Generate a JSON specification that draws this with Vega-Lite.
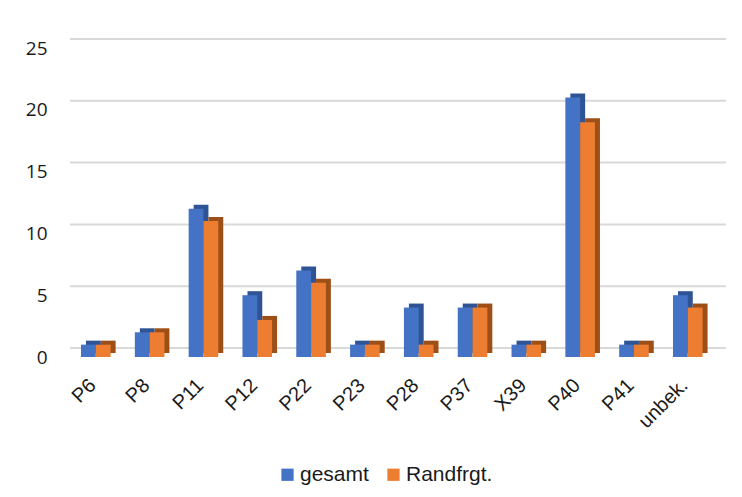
{
  "$schema": "https://vega.github.io/schema/vega-lite/v6.json",
  "width": 656,
  "height": 309,
  "autosize": "none",
  "padding": {"left": 70, "top": 48, "right": 16, "bottom": 140},
  "background": "white",
  "config": {"view": {"stroke": null}},
  "datasets": {
    "bars": [
      {"cat": "P6", "series": "gesamt", "value": 1},
      {"cat": "P6", "series": "Randfrgt.", "value": 1},
      {"cat": "P8", "series": "gesamt", "value": 2},
      {"cat": "P8", "series": "Randfrgt.", "value": 2},
      {"cat": "P11", "series": "gesamt", "value": 12},
      {"cat": "P11", "series": "Randfrgt.", "value": 11},
      {"cat": "P12", "series": "gesamt", "value": 5},
      {"cat": "P12", "series": "Randfrgt.", "value": 3},
      {"cat": "P22", "series": "gesamt", "value": 7},
      {"cat": "P22", "series": "Randfrgt.", "value": 6},
      {"cat": "P23", "series": "gesamt", "value": 1},
      {"cat": "P23", "series": "Randfrgt.", "value": 1},
      {"cat": "P28", "series": "gesamt", "value": 4},
      {"cat": "P28", "series": "Randfrgt.", "value": 1},
      {"cat": "P37", "series": "gesamt", "value": 4},
      {"cat": "P37", "series": "Randfrgt.", "value": 4},
      {"cat": "X39", "series": "gesamt", "value": 1},
      {"cat": "X39", "series": "Randfrgt.", "value": 1},
      {"cat": "P40", "series": "gesamt", "value": 21},
      {"cat": "P40", "series": "Randfrgt.", "value": 19},
      {"cat": "P41", "series": "gesamt", "value": 1},
      {"cat": "P41", "series": "Randfrgt.", "value": 1},
      {"cat": "unbek.", "series": "gesamt", "value": 5},
      {"cat": "unbek.", "series": "Randfrgt.", "value": 4}
    ],
    "grid": [{"g": 0}, {"g": 5}, {"g": 10}, {"g": 15}, {"g": 20}, {"g": 25}]
  },
  "layer": [
    {
      "data": {"name": "grid"},
      "mark": {"type": "rule", "color": "#d9d9d9", "strokeWidth": 2, "yOffset": -9},
      "encoding": {
        "y": {"field": "g", "type": "quantitative", "scale": {"domain": [0, 25]},
              "axis": {"title": null, "domain": false, "ticks": false, "grid": false, "values": [0, 5, 10, 15, 20, 25],
                       "labelPadding": 23, "labelFont": "Open Sans", "labelFontSize": 19, "labelColor": "#1a1a1a"}}
      }
    },
    {
      "data": {"name": "bars"},
      "transform": [{"filter": "datum.series == 'gesamt'"}],
      "mark": {"type": "bar", "width": {"band": 0.5}, "xOffset": -2.4, "yOffset": -4, "color": "#2F5496"},
      "encoding": {
        "x": {"field": "cat", "type": "nominal", "sort": null,
              "scale": {"paddingInner": 0.45, "paddingOuter": 0.32, "align": 0.32},
              "axis": {"title": null, "domain": false, "ticks": false, "labelAngle": -45, "labelAlign": "right", "labelBaseline": "middle",
                       "labelPadding": 25, "labelOffset": -3, "labelFont": "Liberation Sans", "labelFontSize": 20, "labelColor": "#1a1a1a"}},
        "y": {"field": "value", "type": "quantitative", "scale": {"domain": [0, 25]},
              "axis": {"title": null, "domain": false, "ticks": false, "grid": false, "values": [0, 5, 10, 15, 20, 25],
                       "labelPadding": 23, "labelFont": "Open Sans", "labelFontSize": 19, "labelColor": "#1a1a1a"}}
      }
    },
    {
      "data": {"name": "bars"},
      "transform": [{"filter": "datum.series == 'Randfrgt.'"}],
      "mark": {"type": "bar", "width": {"band": 0.5}, "xOffset": 12.4, "yOffset": -4, "color": "#9C4F17"},
      "encoding": {
        "x": {"field": "cat", "type": "nominal", "sort": null,
              "scale": {"paddingInner": 0.45, "paddingOuter": 0.32, "align": 0.32},
              "axis": {"title": null, "domain": false, "ticks": false, "labelAngle": -45, "labelAlign": "right", "labelBaseline": "middle",
                       "labelPadding": 25, "labelOffset": -3, "labelFont": "Liberation Sans", "labelFontSize": 20, "labelColor": "#1a1a1a"}},
        "y": {"field": "value", "type": "quantitative", "scale": {"domain": [0, 25]},
              "axis": {"title": null, "domain": false, "ticks": false, "grid": false, "values": [0, 5, 10, 15, 20, 25],
                       "labelPadding": 23, "labelFont": "Open Sans", "labelFontSize": 19, "labelColor": "#1a1a1a"}}
      }
    },
    {
      "data": {"name": "bars"},
      "mark": {"type": "bar"},
      "encoding": {
        "x": {"field": "cat", "type": "nominal", "sort": null,
              "scale": {"paddingInner": 0.45, "paddingOuter": 0.32, "align": 0.32},
              "axis": {"title": null, "domain": false, "ticks": false, "labelAngle": -45, "labelAlign": "right", "labelBaseline": "middle",
                       "labelPadding": 25, "labelOffset": -3, "labelFont": "Liberation Sans", "labelFontSize": 20, "labelColor": "#1a1a1a"}},
        "xOffset": {"field": "series", "type": "nominal", "sort": ["gesamt", "Randfrgt."], "scale": {"paddingInner": 0, "paddingOuter": 0}},
        "y": {"field": "value", "type": "quantitative", "scale": {"domain": [0, 25]},
              "axis": {"title": null, "domain": false, "ticks": false, "grid": false, "values": [0, 5, 10, 15, 20, 25],
                       "labelPadding": 23, "labelFont": "Open Sans", "labelFontSize": 19, "labelColor": "#1a1a1a"}},
        "color": {"field": "series", "type": "nominal", "sort": ["gesamt", "Randfrgt."],
                  "scale": {"domain": ["gesamt", "Randfrgt."], "range": ["#4472C4", "#ED7D31"]},
                  "legend": {"title": null, "orient": "none", "legendX": 207, "legendY": 416, "direction": "horizontal", "symbolType": "square", "symbolSize": 150,
                             "symbolStrokeWidth": 0, "labelFont": "Liberation Sans", "labelFontSize": 21, "labelColor": "#1a1a1a",
                             "columnPadding": 14, "labelOffset": 2}}
      }
    }
  ]
}
